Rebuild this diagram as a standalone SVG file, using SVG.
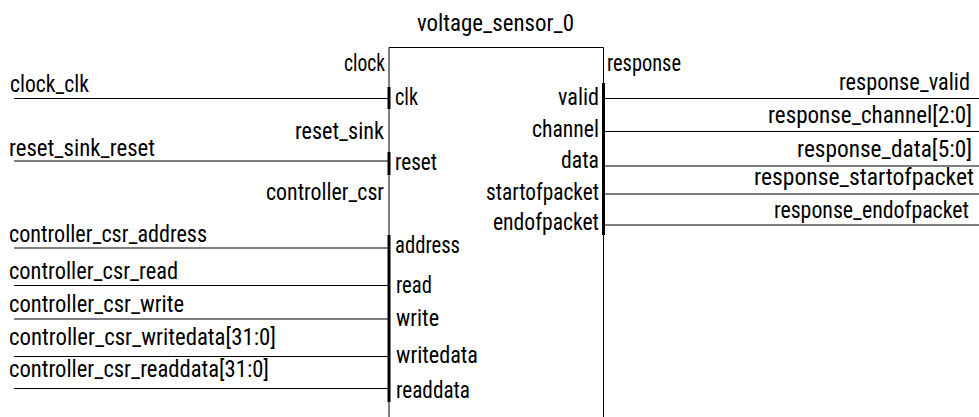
<svg xmlns="http://www.w3.org/2000/svg" width="979" height="417" viewBox="0 0 979 417">
<style>
text{font-family:"Liberation Sans Narrow","Roboto Condensed","Liberation Sans",sans-serif;font-size:24px;fill:#000}
.w{stroke:#000;stroke-width:1;fill:none}
.g{stroke:#555;stroke-width:1.6;fill:none}
.box{stroke:#000;stroke-width:1;fill:#fff}
.tick{stroke:#000;stroke-width:3;fill:none}
</style>
<rect width="979" height="417" fill="#fff"/>
<g id="connectors">
<line class="w" x1="14" y1="98.5" x2="388" y2="98.5"/>
<line class="g" x1="14" y1="161" x2="388" y2="161"/>
<line class="g" x1="14" y1="248" x2="388" y2="248"/>
<line class="w" x1="14" y1="285.5" x2="388" y2="285.5"/>
<line class="g" x1="14" y1="319" x2="388" y2="319"/>
<line class="w" x1="14" y1="356.5" x2="388" y2="356.5"/>
<line class="w" x1="14" y1="388.5" x2="388" y2="388.5"/>
<line class="w" x1="605" y1="98.5" x2="979" y2="98.5"/>
<line class="w" x1="605" y1="131.5" x2="979" y2="131.5"/>
<line class="g" x1="605" y1="166" x2="979" y2="166"/>
<line class="g" x1="605" y1="194" x2="979" y2="194"/>
<line class="g" x1="605" y1="225" x2="979" y2="225"/>
</g>
<g id="signals">
<text x="10" y="92" textLength="79" lengthAdjust="spacingAndGlyphs">clock_clk</text>
<text x="9" y="156" textLength="146" lengthAdjust="spacingAndGlyphs">reset_sink_reset</text>
<text x="9" y="242" textLength="198" lengthAdjust="spacingAndGlyphs">controller_csr_address</text>
<text x="9" y="279" textLength="169" lengthAdjust="spacingAndGlyphs">controller_csr_read</text>
<text x="9" y="312" textLength="175" lengthAdjust="spacingAndGlyphs">controller_csr_write</text>
<text x="9" y="345" textLength="267" lengthAdjust="spacingAndGlyphs">controller_csr_writedata[31:0]</text>
<text x="9" y="377" textLength="260" lengthAdjust="spacingAndGlyphs">controller_csr_readdata[31:0]</text>
<text x="839" y="90" textLength="131" lengthAdjust="spacingAndGlyphs">response_valid</text>
<text x="768" y="123" textLength="204" lengthAdjust="spacingAndGlyphs">response_channel[2:0]</text>
<text x="797" y="157" textLength="175" lengthAdjust="spacingAndGlyphs">response_data[5:0]</text>
<text x="754" y="185" textLength="220" lengthAdjust="spacingAndGlyphs">response_startofpacket</text>
<text x="774" y="217.5" textLength="195" lengthAdjust="spacingAndGlyphs">response_endofpacket</text>
</g>
<g id="voltage_sensor_0">
<text x="417" y="31" textLength="157" lengthAdjust="spacingAndGlyphs">voltage_sensor_0</text>
<path class="box" d="M389 418 V47.5 H603.5 V418"/>
<line class="tick" x1="389" y1="87" x2="389" y2="109"/>
<line class="tick" x1="389" y1="152" x2="389" y2="175"/>
<line class="tick" x1="389" y1="235" x2="389" y2="402"/>
<line class="tick" x1="603.5" y1="83" x2="603.5" y2="235"/>
<text x="344" y="71" textLength="41" lengthAdjust="spacingAndGlyphs">clock</text>
<text x="295" y="139" textLength="89" lengthAdjust="spacingAndGlyphs">reset_sink</text>
<text x="266" y="200" textLength="118" lengthAdjust="spacingAndGlyphs">controller_csr</text>
<text x="607" y="71" textLength="74" lengthAdjust="spacingAndGlyphs">response</text>
<text x="395" y="105" textLength="23" lengthAdjust="spacingAndGlyphs">clk</text>
<text x="395" y="170" textLength="42" lengthAdjust="spacingAndGlyphs">reset</text>
<text x="395" y="253" textLength="65" lengthAdjust="spacingAndGlyphs">address</text>
<text x="396" y="293" textLength="36" lengthAdjust="spacingAndGlyphs">read</text>
<text x="396" y="326" textLength="43" lengthAdjust="spacingAndGlyphs">write</text>
<text x="396" y="363" textLength="82" lengthAdjust="spacingAndGlyphs">writedata</text>
<text x="396" y="398" textLength="74" lengthAdjust="spacingAndGlyphs">readdata</text>
<text x="558" y="105" textLength="41" lengthAdjust="spacingAndGlyphs">valid</text>
<text x="532" y="137" textLength="67" lengthAdjust="spacingAndGlyphs">channel</text>
<text x="561" y="168" textLength="38" lengthAdjust="spacingAndGlyphs">data</text>
<text x="486" y="200" textLength="113" lengthAdjust="spacingAndGlyphs">startofpacket</text>
<text x="493" y="230" textLength="106" lengthAdjust="spacingAndGlyphs">endofpacket</text>
</g>
</svg>
